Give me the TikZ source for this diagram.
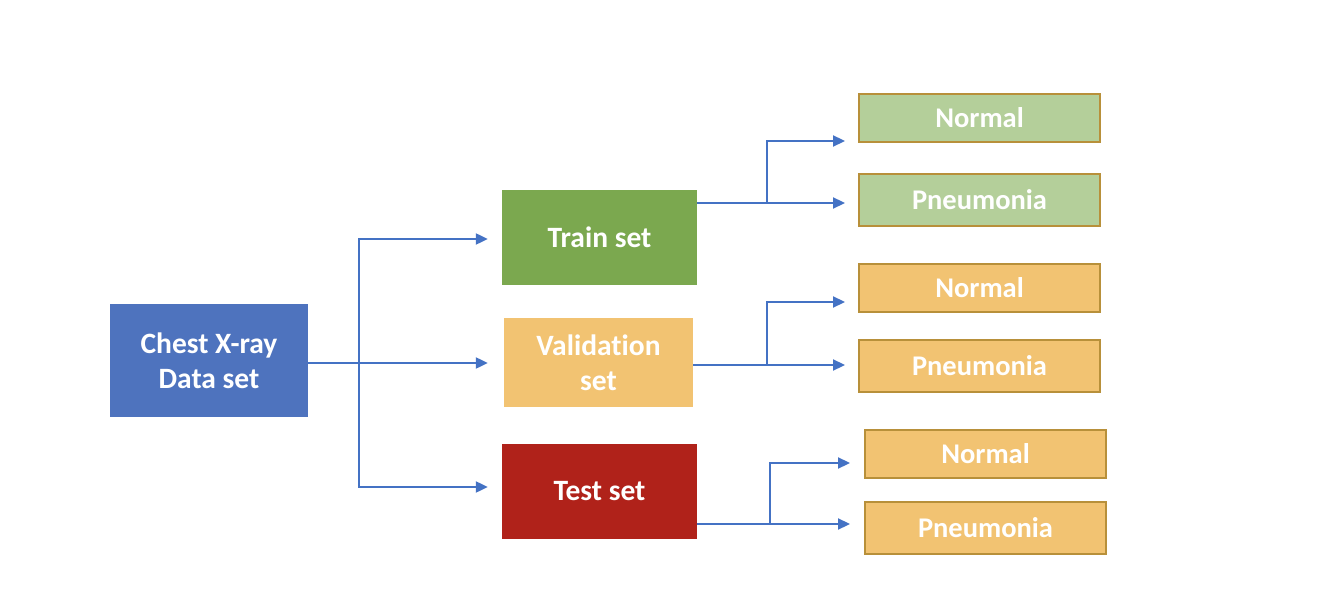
\documentclass[tikz,border=0pt]{standalone}
\usepackage{fontspec}
\setmainfont{Carlito}[Ligatures=NoCommon]
\usetikzlibrary{arrows.meta}
\definecolor{cblue}{HTML}{4E73BE}
\definecolor{cgreen}{HTML}{7BA84F}
\definecolor{corange}{HTML}{F2C372}
\definecolor{cred}{HTML}{B0221A}
\definecolor{clgreen}{HTML}{B4CF9A}
\definecolor{cborder}{HTML}{B8903A}
\definecolor{cline}{HTML}{4472C4}
\tikzset{
  box/.style={inner sep=0pt, align=center, text=white, font=\bfseries\fontsize{29.5}{35}\selectfont},
  leaf/.style={box, draw=cborder, line width=2pt, minimum width=241pt, font=\bfseries\fontsize{28.5}{34}\selectfont},
  wire/.style={draw=cline, line width=2.2pt},
  arr/.style={wire, -{Triangle[length=12pt,width=11pt]}},
}
\begin{document}
\begin{tikzpicture}[x=1pt,y=1pt]
\useasboundingbox (0,0) rectangle (1336,590);
\node[box, fill=cblue, minimum width=198pt, minimum height=113pt] (chest) at (209,229.5) {Chest X-ray\\Data set};
\node[box, fill=cgreen, minimum width=195pt, minimum height=95pt] (train) at (599.5,352.5) {Train set};
\node[box, fill=corange, minimum width=189pt, minimum height=89pt] (val) at (598.5,227.5) {Validation\\set};
\node[box, fill=cred, minimum width=195pt, minimum height=95pt] (test) at (599.5,98.5) {Test set};
\node[leaf, fill=clgreen, minimum height=48pt] (n1) at (979.5,472) {Normal};
\node[leaf, fill=clgreen, minimum height=52pt] (p1) at (979.5,390) {Pneumonia};
\node[leaf, fill=corange, minimum height=48pt] (n2) at (979.5,302) {Normal};
\node[leaf, fill=corange, minimum height=52pt] (p2) at (979.5,224) {Pneumonia};
\node[leaf, fill=corange, minimum height=48pt] (n3) at (985.5,136) {Normal};
\node[leaf, fill=corange, minimum height=52pt] (p3) at (985.5,62) {Pneumonia};
% from the data set
\draw[wire] ([yshift=-2.5]chest.east) -- ++(51,0) coordinate (c1);
\draw[arr] (c1) -- ([xshift=-16]val.west |- c1);
\draw[arr] (c1) |- ([xshift=-14,yshift=-1.5]train.west);
\draw[arr] (c1) |- ([xshift=-14,yshift=4.5]test.west);
% train
\draw[wire] ([yshift=34.5]train.east) -- ++(70,0) coordinate (t1);
\draw[arr] (t1) -- ([xshift=-13]p1.west |- t1);
\draw[arr] (t1) |- ([xshift=-13,yshift=-23]n1.west);
% validation
\draw[wire] ([yshift=-2.5]val.east) -- ++(74,0) coordinate (v1);
\draw[arr] (v1) -- ([xshift=-13]p2.west |- v1);
\draw[arr] (v1) |- ([xshift=-13,yshift=-14]n2.west);
% test
\draw[wire] ([yshift=-32.5]test.east) -- ++(73,0) coordinate (s1);
\draw[arr] (s1) -- ([xshift=-14]p3.west |- s1);
\draw[arr] (s1) |- ([xshift=-14,yshift=-9]n3.west);
\end{tikzpicture}
\end{document}
